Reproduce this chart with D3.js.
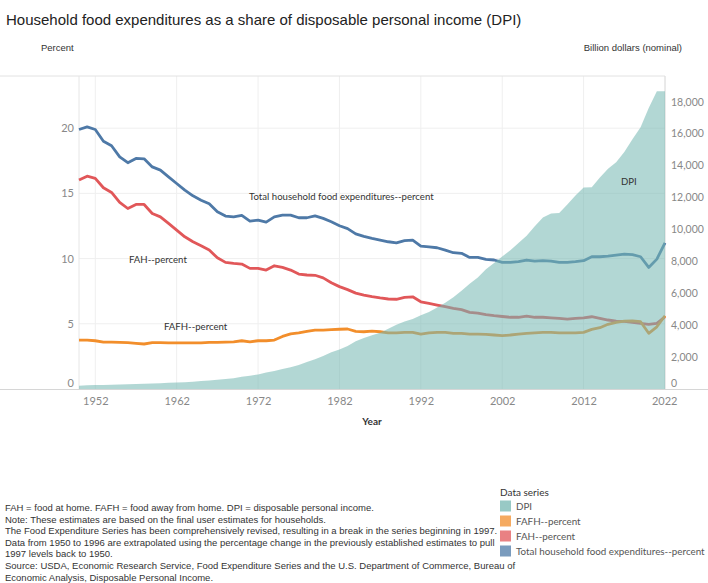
<!DOCTYPE html>
<html>
<head>
<meta charset="utf-8">
<script src="https://d3js.org/d3.v7.min.js"></script>
<style>
  body { margin: 0; background: #fff; }
  svg text { font-family: Lato, "Open Sans", sans-serif; }
  .arial { font-family: "Liberation Sans", Arial, sans-serif !important; }
  .tick text { fill: #888; }
</style>
</head>
<body>
<script>
// years 1950 - 2022
var years = d3.range(1950, 2023);

// Total household food expenditures, percent of DPI
var totalPct = [19.9, 20.1, 19.9, 19.0, 18.65, 17.8, 17.35, 17.68, 17.65, 17.03,
  16.78, 16.27, 15.76, 15.25, 14.81, 14.48, 14.2, 13.59, 13.26, 13.2,
  13.31, 12.87, 12.95, 12.8, 13.2, 13.33, 13.33, 13.13, 13.13, 13.28,
  13.08, 12.82, 12.52, 12.3, 11.9, 11.7, 11.55, 11.42, 11.29, 11.21,
  11.37, 11.42, 10.96, 10.9, 10.83, 10.65, 10.45, 10.4, 10.09, 10.09,
  9.94, 9.89, 9.71, 9.71, 9.76, 9.89, 9.81, 9.84, 9.81, 9.71,
  9.71, 9.76, 9.84, 10.14, 10.14, 10.19, 10.27, 10.34, 10.3, 10.14,
  9.32, 9.96, 11.21];

// food at home, percent of DPI
var fahPct = [16.02, 16.32, 16.15, 15.43, 15.07, 14.31, 13.84, 14.15, 14.15, 13.46,
  13.2, 12.7, 12.18, 11.67, 11.29, 10.98, 10.65, 10.06, 9.71, 9.63,
  9.58, 9.25, 9.25, 9.12, 9.45, 9.32, 9.12, 8.81, 8.74, 8.72,
  8.52, 8.15, 7.85, 7.62, 7.35, 7.2, 7.08, 6.98, 6.9, 6.88,
  7.03, 7.07, 6.69, 6.57, 6.44, 6.31, 6.18, 6.08, 5.88, 5.82,
  5.7, 5.62, 5.56, 5.5, 5.5, 5.59, 5.5, 5.5, 5.46, 5.42,
  5.36, 5.42, 5.46, 5.54, 5.42, 5.29, 5.21, 5.18, 5.11, 5.03,
  4.96, 5.03, 5.54];

// food away from home, percent of DPI
var fafhPct = [3.75, 3.75, 3.7, 3.6, 3.6, 3.58, 3.55, 3.5, 3.45, 3.55,
  3.55, 3.53, 3.53, 3.53, 3.53, 3.53, 3.57, 3.57, 3.6, 3.62,
  3.7, 3.62, 3.7, 3.7, 3.75, 4.03, 4.22, 4.31, 4.42, 4.52,
  4.52, 4.55, 4.58, 4.6, 4.42, 4.39, 4.43, 4.39, 4.31, 4.31,
  4.34, 4.34, 4.21, 4.31, 4.34, 4.34, 4.27, 4.27, 4.21, 4.21,
  4.19, 4.14, 4.09, 4.14, 4.21, 4.27, 4.31, 4.34, 4.34, 4.31,
  4.31, 4.31, 4.34, 4.57, 4.7, 4.96, 5.11, 5.2, 5.22, 5.16,
  4.27, 4.77, 5.62];

// disposable personal income, billion dollars
var dpi = [210, 231, 243, 258, 264, 283, 303, 319, 330, 350,
  364, 385, 405, 425, 462, 498, 538, 577, 624, 673,
  760, 830, 910, 1030, 1130, 1250, 1370, 1510, 1690, 1870,
  2060, 2300, 2480, 2690, 2990, 3190, 3370, 3530, 3780, 4020,
  4230, 4380, 4620, 4820, 5100, 5400, 5750, 6150, 6600, 6980,
  7500, 7900, 8300, 8700, 9150, 9600, 10200, 10750, 11000, 11020,
  11560, 12120, 12620, 12640, 13250, 13800, 14200, 14850, 15650, 16400,
  17600, 18650, 18650];

var xTicks = [1952, 1962, 1972, 1982, 1992, 2002, 2012, 2022];
var leftTicks = [0, 5, 10, 15, 20];
var rightTicks = [0, 2000, 4000, 6000, 8000, 10000, 12000, 14000, 16000, 18000];

var legendNames = ["DPI", "FAFH--percent", "FAH--percent", "Total household food expenditures--percent"];
var notes = [
  "FAH = food at home. FAFH = food away from home. DPI = disposable personal income.",
  "Note: These estimates are based on the final user estimates for households.",
  "The Food Expenditure Series has been comprehensively revised, resulting in a break in the series beginning in 1997.",
  "Data from 1950 to 1996 are extrapolated using the percentage change in the previously established estimates to pull",
  "1997 levels back to 1950.",
  "Source: USDA, Economic Research Service, Food Expenditure Series and the U.S. Department of Commerce, Bureau of",
  "Economic Analysis, Disposable Personal Income."
];

var colors = { dpi: "#76b7b2", fafh: "#f28e2b", fah: "#e15759", total: "#4e79a7" };

var width = 708, height = 583;
var plotL = 79, plotR = 665, plotT = 76, plotB = 389;

var svg = d3.select("body").append("svg")
  .attr("width", width)
  .attr("height", height);

var x = d3.scaleLinear().domain([1950, 2022]).range([plotL, plotR]);
var yL = d3.scaleLinear().domain([0, 24]).range([plotB, plotT]);
var yR = d3.scaleLinear().domain([0, 19610]).range([plotB, plotT]);

// title and axis captions
svg.append("text").attr("class", "arial")
  .attr("x", 6).attr("y", 25)
  .attr("font-size", 15).attr("fill", "#222")
  .text("Household food expenditures as a share of disposable personal income (DPI)");
svg.append("text").attr("class", "arial")
  .attr("x", 41).attr("y", 51)
  .attr("font-size", 9.5).attr("fill", "#333")
  .text("Percent");
svg.append("text").attr("class", "arial")
  .attr("x", 682).attr("y", 51).attr("text-anchor", "end")
  .attr("font-size", 9.5).attr("fill", "#333")
  .text("Billion dollars (nominal)");

// grid
var grid = svg.append("g");
grid.selectAll(".vg").data(xTicks).enter().append("line")
  .attr("x1", x).attr("x2", x)
  .attr("y1", plotT).attr("y2", plotB)
  .attr("stroke", "#efefef");
grid.selectAll(".hg").data(leftTicks.slice(1)).enter().append("line")
  .attr("x1", plotL).attr("x2", plotR)
  .attr("y1", yL).attr("y2", yL)
  .attr("stroke", "#efefef");
grid.append("line").attr("x1", 0).attr("x2", plotR).attr("y1", plotT).attr("y2", plotT).attr("stroke", "#e2e2e2");
grid.append("line").attr("x1", plotL).attr("x2", plotL).attr("y1", plotT).attr("y2", plotB).attr("stroke", "#e6e6e6");
grid.append("line").attr("x1", plotR).attr("x2", plotR).attr("y1", plotT).attr("y2", plotB).attr("stroke", "#dcdcdc");

// lines
function lineFor(vals) {
  return d3.line().x(function(d, i) { return x(years[i]); })
    .y(function(d) { return yL(d); })(vals);
}
var series = [
  { vals: totalPct, color: colors.total },
  { vals: fahPct, color: colors.fah },
  { vals: fafhPct, color: colors.fafh }
];
svg.append("g").selectAll("path").data(series).enter().append("path")
  .attr("d", function(d) { return lineFor(d.vals); })
  .attr("fill", "none")
  .attr("stroke", function(d) { return d.color; })
  .attr("stroke-width", 2.8)
  .attr("stroke-linejoin", "round");

// DPI area on top, translucent
var area = d3.area()
  .x(function(d, i) { return x(years[i]); })
  .y0(plotB)
  .y1(function(d) { return yR(d); });
svg.append("path")
  .attr("d", area(dpi))
  .attr("fill", colors.dpi)
  .attr("fill-opacity", 0.56);

// baseline
svg.append("line").attr("x1", 0).attr("x2", width).attr("y1", plotB + 0.5).attr("y2", plotB + 0.5).attr("stroke", "#d6d6d6");

// axes
var gx = svg.append("g").attr("transform", "translate(0," + plotB + ")")
  .call(d3.axisBottom(x).tickValues(xTicks).tickFormat(d3.format("d")).tickSize(0).tickPadding(8));
gx.select(".domain").remove();
gx.selectAll(".tick text").attr("font-size", 11)
  .filter(function(d) { return d === 2022; })
  .attr("text-anchor", "end").attr("dx", 12);

var gl = svg.append("g").attr("transform", "translate(" + (plotL - 5) + ",0)")
  .call(d3.axisLeft(yL).tickValues(leftTicks).tickSize(0).tickPadding(0));
gl.select(".domain").remove();
gl.selectAll(".tick text").attr("font-size", 11)
  .filter(function(d) { return d === 0; }).attr("dy", "-0.2em");

var gr = svg.append("g").attr("transform", "translate(" + (plotR + 6) + ",0)")
  .call(d3.axisRight(yR).tickValues(rightTicks).tickFormat(d3.format(",")).tickSize(0).tickPadding(0));
gr.select(".domain").remove();
gr.selectAll(".tick text").attr("font-size", 10.5)
  .filter(function(d) { return d === 0; }).attr("dy", "-0.2em");

svg.append("text").attr("x", (plotL + plotR) / 2).attr("y", 425)
  .attr("text-anchor", "middle").attr("font-size", 10).attr("font-weight", "bold").attr("fill", "#333")
  .text("Year");

// series labels in the plot
var inLabels = [
  { t: "Total household food expenditures--percent", x: 249, y: 200 },
  { t: "FAH--percent", x: 129, y: 263 },
  { t: "FAFH--percent", x: 164, y: 330 },
  { t: "DPI", x: 621, y: 185 }
];
svg.append("g").selectAll("text").data(inLabels).enter().append("text")
  .attr("x", function(d) { return d.x; }).attr("y", function(d) { return d.y; })
  .attr("font-size", 9.6).attr("fill", "#333")
  .text(function(d) { return d.t; });

// notes
svg.append("g").selectAll("text").data(notes).enter().append("text")
  .attr("class", "arial")
  .attr("x", 5).attr("y", function(d, i) { return 511 + i * 11.6; })
  .attr("font-size", 9.5).attr("fill", "#333")
  .text(function(d) { return d; });

// legend
var legColors = [colors.dpi, colors.fafh, colors.fah, colors.total];
var leg = svg.append("g").attr("transform", "translate(500,0)");
leg.append("text").attr("x", 0).attr("y", 496).attr("font-size", 10).attr("fill", "#333").text("Data series");
var item = leg.selectAll(".it").data(legendNames).enter().append("g")
  .attr("transform", function(d, i) { return "translate(0," + (506 + i * 15) + ")"; });
item.append("rect").attr("x", 0).attr("y", -5.5).attr("width", 11).attr("height", 11)
  .attr("fill", function(d, i) { return legColors[i]; }).attr("fill-opacity", 0.75);
item.append("text").attr("x", 16).attr("y", 4).attr("font-size", 9.8).attr("fill", "#555")
  .text(function(d) { return d; });
</script>
</body>
</html>
